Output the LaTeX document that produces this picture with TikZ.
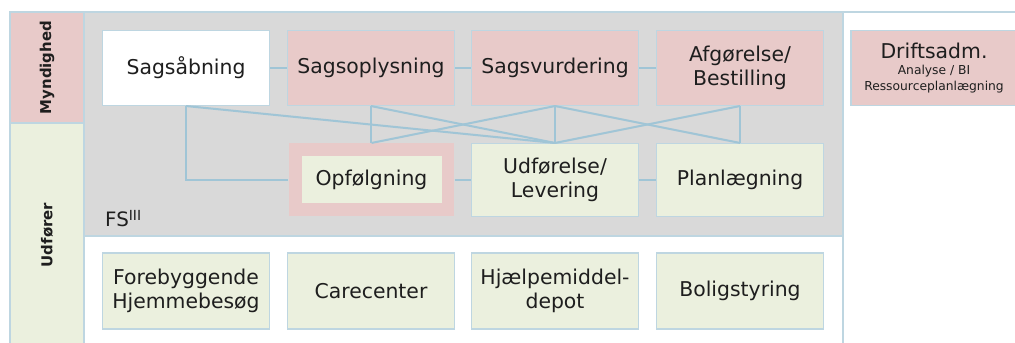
\documentclass[tikz,border=0pt]{standalone}
\usepackage{fontspec}
\setmainfont{DejaVu Sans}

\definecolor{myndpink}{RGB}{232,202,201}
\definecolor{udfgreen}{RGB}{235,240,222}
\definecolor{fsgray}{RGB}{217,217,217}
\definecolor{linkblue}{RGB}{160,197,214}
\definecolor{rimblue}{RGB}{190,214,225}
\definecolor{txtdark}{RGB}{30,30,30}

\tikzset{
  box/.style={draw=rimblue, line width=0.6pt, minimum width=33.4mm, minimum height=15mm,
    inner sep=0pt, align=center, text=txtdark, font=\fontsize{11.6}{13.6}\selectfont},
  myndbox/.style={box, fill=myndpink},
  udfbox/.style={box, fill=udfgreen},
  rowlabel/.style={rotate=90, text=txtdark, font=\fontsize{8.5}{10}\selectfont\bfseries},
  link/.style={draw=linkblue, line width=1.15pt},
  rim/.style={draw=rimblue, line width=0.9pt}
}

\begin{document}
\begin{tikzpicture}[x=0.2mm,y=-0.2mm]
            \clip (0,0) rectangle (1015,343);

            % baggrund
            \fill[myndpink] (10,12) rectangle (84,123);
            \fill[udfgreen] (10,123) rectangle (84,350);
            \fill[fsgray] (84,12) rectangle (843,236);
            \draw[rim] (10,350) -- (10,12) -- (1015,12);
            \draw[rim] (84,12) -- (84,350);
            \draw[rim] (843,12) -- (843,350);
            \draw[rim] (10,123) -- (84,123);
            \draw[rim] (84,236) -- (843,236);

            \node[rowlabel] (myn) at (47,67.5) {Myndighed};
            \node[rowlabel] (udf) at (47,235) {Udfører};

            % myndighed
            \node[box, fill=white] (aabn) at (186,68) {Sagsåbning};
            \node[myndbox] (oplys) at (371,68) {Sagsoplysning};
            \node[myndbox] (vurd) at (555,68) {Sagsvurdering};
            \node[myndbox] (afg) at (740,68) {Afgørelse/\\Bestilling};

            % udfoerer i FS
            \node[myndbox, draw=none, minimum width=33mm, minimum height=14.6mm] (opfbg) at (371.5,180) {};
            \node[udfbox, draw=none, minimum width=28mm, minimum height=9.4mm] (opf) at (opfbg) {Opfølgning};
            \node[udfbox, minimum height=14.6mm] (lev) at (555,180) {Udførelse/\\Levering};
            \node[udfbox, minimum height=14.6mm] (plan) at (740,180) {Planlægning};
            \node[anchor=base west, text=txtdark, font=\fontsize{11.3}{13.6}\selectfont] (fs) at (99,227) {FS\textsuperscript{III}};

            % udfoerer udenfor
            \node[udfbox, minimum height=15.2mm] (forb) at (186,291) {Forebyggende\\Hjemmebesøg};
            \node[udfbox, minimum height=15.2mm] (care) at (371,291) {Carecenter};
            \node[udfbox, minimum height=15.2mm] (hjlp) at (555,291) {Hjælpemiddel-\\depot};
            \node[udfbox, minimum height=15.2mm] (bolig) at (740,291) {Boligstyring};

            \node[myndbox, minimum width=33.2mm] (drift) at (934,68)
              {Driftsadm.\\[-4.4pt]\fontsize{7}{9}\selectfont Analyse / BI\\[-4.6pt]\fontsize{7}{9}\selectfont Ressourceplanlægning};

            % forbindelser
            \draw[link] (aabn) -- (oplys);
            \draw[link] (oplys) -- (vurd);
            \draw[link] (vurd) -- (afg);
            \draw[link] (opfbg) -- (lev);
            \draw[link] (lev) -- (plan);
            \draw[link] (aabn.south) |- (opfbg.west);
            \draw[link] (aabn.south) -- (lev.north);
            \draw[link] (oplys.south) -- (oplys.south |- opfbg.north);
            \draw[link] (oplys.south) -- (lev.north);
            \draw[link] (opfbg.north) -- (vurd.south);
            \draw[link] (vurd.south) -- (lev.north);
            \draw[link] (vurd.south) -- (plan.north);
            \draw[link] (afg.south) -- (lev.north);
            \draw[link] (afg.south) -- (plan.north);
\end{tikzpicture}
\end{document}
